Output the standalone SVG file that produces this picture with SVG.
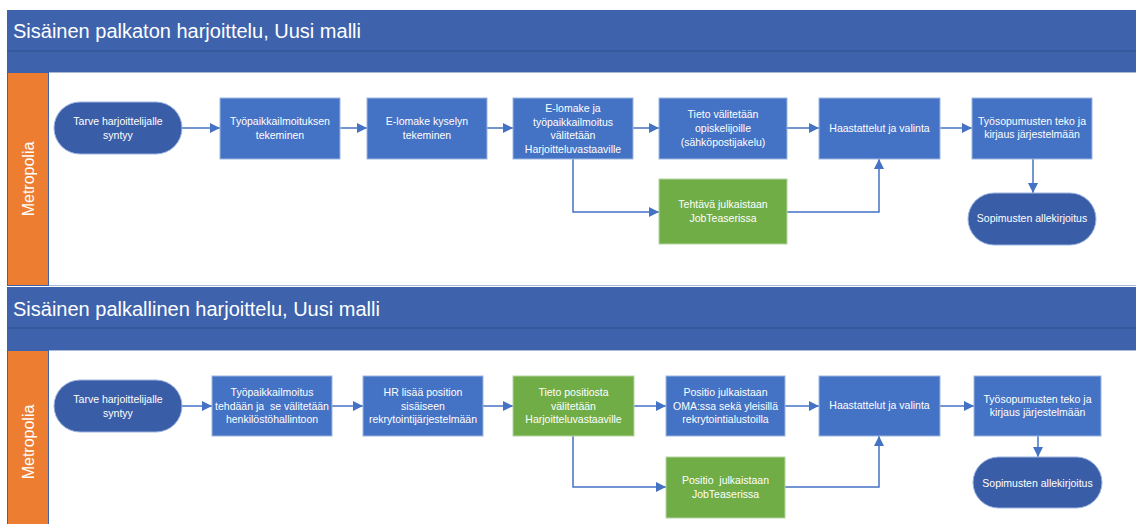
<svg xmlns="http://www.w3.org/2000/svg" width="1136" height="524" viewBox="0 0 1136 524">
<style>
.band{fill:#3E63AC}
.sep{stroke:#34569A;stroke-width:1.5}
.lane{fill:#ED7D31;stroke:#3E63AC;stroke-width:1}
.area{fill:#FFFFFF;stroke:#A9B8D6;stroke-width:1}
.title{font-family:"Liberation Sans",Arial,sans-serif;font-size:20px;fill:#FFFFFF}
.lanelbl{font-family:"Liberation Sans",Arial,sans-serif;font-size:16px;fill:#FFFFFF}
.box{fill:#4472C4;stroke:#9DB5E0;stroke-width:1}
.gbox{fill:#70AD47;stroke:#B5D49F;stroke-width:1}
.term{fill:#3A5DA8;stroke:#9DB5E0;stroke-width:1}
.t{font-family:"Liberation Sans",Arial,sans-serif;font-size:10.5px;fill:#FFFFFF;text-anchor:middle}
.c{fill:none;stroke:#4472C4;stroke-width:1.5}
</style>
<defs>
<marker id="ah" viewBox="0 0 10 10" refX="10" refY="5" markerWidth="6.7" markerHeight="6.7" orient="auto" markerUnits="strokeWidth">
<path d="M0,0 L10,5 L0,10 Z" fill="#4472C4"/>
</marker>
</defs>
<rect width="1136" height="524" fill="#FFFFFF"/>

<!-- Pool 1 -->
<g id="pool1">
<rect class="band" x="7" y="10" width="1129" height="63"/>
<line class="sep" x1="7" y1="51" x2="1136" y2="51"/>
<text class="title" x="13" y="38">Sisäinen palkaton harjoittelu, Uusi malli</text>
<rect class="area" x="48" y="72.5" width="1090" height="213"/>
<rect class="lane" x="7.5" y="72.5" width="41" height="213"/>
<text class="lanelbl" transform="translate(34,179) rotate(-90)" text-anchor="middle">Metropolia</text>
</g>

<!-- Pool 2 -->
<g id="pool2">
<rect class="band" x="7" y="287" width="1129" height="63"/>
<line class="sep" x1="7" y1="328" x2="1136" y2="328"/>
<text class="title" x="13" y="316">Sisäinen palkallinen harjoittelu, Uusi malli</text>
<rect class="area" x="48" y="350.5" width="1090" height="180"/>
<rect class="lane" x="7.5" y="350.5" width="41" height="180"/>
<text class="lanelbl" transform="translate(34,442) rotate(-90)" text-anchor="middle">Metropolia</text>
</g>

<!-- Connectors -->
<g id="connectors">
<path class="c" d="M182,128 L220,128" marker-end="url(#ah)"/>
<path class="c" d="M340,128 L367,128" marker-end="url(#ah)"/>
<path class="c" d="M487,128 L513,128" marker-end="url(#ah)"/>
<path class="c" d="M633,128 L659,128" marker-end="url(#ah)"/>
<path class="c" d="M787,128 L819,128" marker-end="url(#ah)"/>
<path class="c" d="M940,128 L972,128" marker-end="url(#ah)"/>
<path class="c" d="M573,159 L573,212 L659,212" marker-end="url(#ah)"/>
<path class="c" d="M787,212 L879,212 L879,159" marker-end="url(#ah)"/>
<path class="c" d="M1033,159 L1033,193" marker-end="url(#ah)"/>

<path class="c" d="M182,406 L212,406" marker-end="url(#ah)"/>
<path class="c" d="M332,406 L363,406" marker-end="url(#ah)"/>
<path class="c" d="M483,406 L513,406" marker-end="url(#ah)"/>
<path class="c" d="M634,406 L666,406" marker-end="url(#ah)"/>
<path class="c" d="M785,406 L819,406" marker-end="url(#ah)"/>
<path class="c" d="M940,406 L974,406" marker-end="url(#ah)"/>
<path class="c" d="M573,436 L573,487 L666,487" marker-end="url(#ah)"/>
<path class="c" d="M785,487 L879,487 L879,436" marker-end="url(#ah)"/>
<path class="c" d="M1038,436 L1038,457" marker-end="url(#ah)"/>
</g>

<!-- Pool 1 nodes -->
<g id="p1_start">
<rect class="term" x="54" y="102" width="128" height="52" rx="26"/>
<text class="t" x="118" y="125">Tarve harjoittelijalle</text>
<text class="t" x="118" y="139">syntyy</text>
</g>
<g id="p1_n2">
<rect class="box" x="220" y="98" width="120" height="61"/>
<text class="t" x="280" y="125">Työpaikkailmoituksen</text>
<text class="t" x="280" y="139">tekeminen</text>
</g>
<g id="p1_n3">
<rect class="box" x="367" y="98" width="120" height="61"/>
<text class="t" x="427" y="125">E-lomake kyselyn</text>
<text class="t" x="427" y="139">tekeminen</text>
</g>
<g id="p1_n4">
<rect class="box" x="513" y="98" width="120" height="61"/>
<text class="t" x="573" y="112">E-lomake ja</text>
<text class="t" x="573" y="125.5">työpaikkailmoitus</text>
<text class="t" x="573" y="139">välitetään</text>
<text class="t" x="573" y="152.5">Harjoitteluvastaaville</text>
</g>
<g id="p1_n5">
<rect class="box" x="659" y="98" width="128" height="61"/>
<text class="t" x="723" y="118">Tieto välitetään</text>
<text class="t" x="723" y="132">opiskelijoille</text>
<text class="t" x="723" y="146">(sähköpostijakelu)</text>
</g>
<g id="p1_n6">
<rect class="gbox" x="659" y="179" width="128" height="65"/>
<text class="t" x="723" y="208">Tehtävä julkaistaan</text>
<text class="t" x="723" y="222">JobTeaserissa</text>
</g>
<g id="p1_n7">
<rect class="box" x="819" y="98" width="121" height="61"/>
<text class="t" x="879.5" y="132">Haastattelut ja valinta</text>
</g>
<g id="p1_n8">
<rect class="box" x="972" y="98" width="120" height="61"/>
<text class="t" x="1032" y="125">Työsopumusten teko ja</text>
<text class="t" x="1032" y="138">kirjaus järjestelmään</text>
</g>
<g id="p1_end">
<rect class="term" x="968" y="193" width="128" height="52" rx="26"/>
<text class="t" x="1032" y="222">Sopimusten allekirjoitus</text>
</g>

<!-- Pool 2 nodes -->
<g id="p2_start">
<rect class="term" x="54" y="380" width="128" height="52" rx="26"/>
<text class="t" x="118" y="403">Tarve harjoittelijalle</text>
<text class="t" x="118" y="417">syntyy</text>
</g>
<g id="p2_n2">
<rect class="box" x="212" y="376" width="120" height="60"/>
<text class="t" x="272" y="396">Työpaikkailmoitus</text>
<text class="t" x="272" y="410" xml:space="preserve">tehdään ja  se välitetään</text>
<text class="t" x="272" y="423">henkilöstöhallintoon</text>
</g>
<g id="p2_n3">
<rect class="box" x="363" y="376" width="120" height="60"/>
<text class="t" x="423" y="396">HR lisää position</text>
<text class="t" x="423" y="410">sisäiseen</text>
<text class="t" x="423" y="423">rekrytointijärjestelmään</text>
</g>
<g id="p2_n4">
<rect class="gbox" x="513" y="376" width="121" height="60"/>
<text class="t" x="573.5" y="396">Tieto positiosta</text>
<text class="t" x="573.5" y="410">välitetään</text>
<text class="t" x="573.5" y="423">Harjoitteluvastaaville</text>
</g>
<g id="p2_n5">
<rect class="box" x="666" y="376" width="119" height="60"/>
<text class="t" x="725.5" y="396">Positio julkaistaan</text>
<text class="t" x="725.5" y="410">OMA:ssa sekä yleisillä</text>
<text class="t" x="725.5" y="423">rekrytointialustoilla</text>
</g>
<g id="p2_n6">
<rect class="gbox" x="666" y="457" width="119" height="61"/>
<text class="t" x="725.5" y="484" xml:space="preserve">Positio  julkaistaan</text>
<text class="t" x="725.5" y="498">JobTeaserissa</text>
</g>
<g id="p2_n7">
<rect class="box" x="819" y="376" width="121" height="60"/>
<text class="t" x="879.5" y="409">Haastattelut ja valinta</text>
</g>
<g id="p2_n8">
<rect class="box" x="974" y="376" width="127" height="60"/>
<text class="t" x="1037.5" y="403">Työsopumusten teko ja</text>
<text class="t" x="1037.5" y="416">kirjaus järjestelmään</text>
</g>
<g id="p2_end">
<rect class="term" x="973" y="457" width="129" height="51" rx="25.5"/>
<text class="t" x="1037.5" y="487">Sopimusten allekirjoitus</text>
</g>
</svg>
